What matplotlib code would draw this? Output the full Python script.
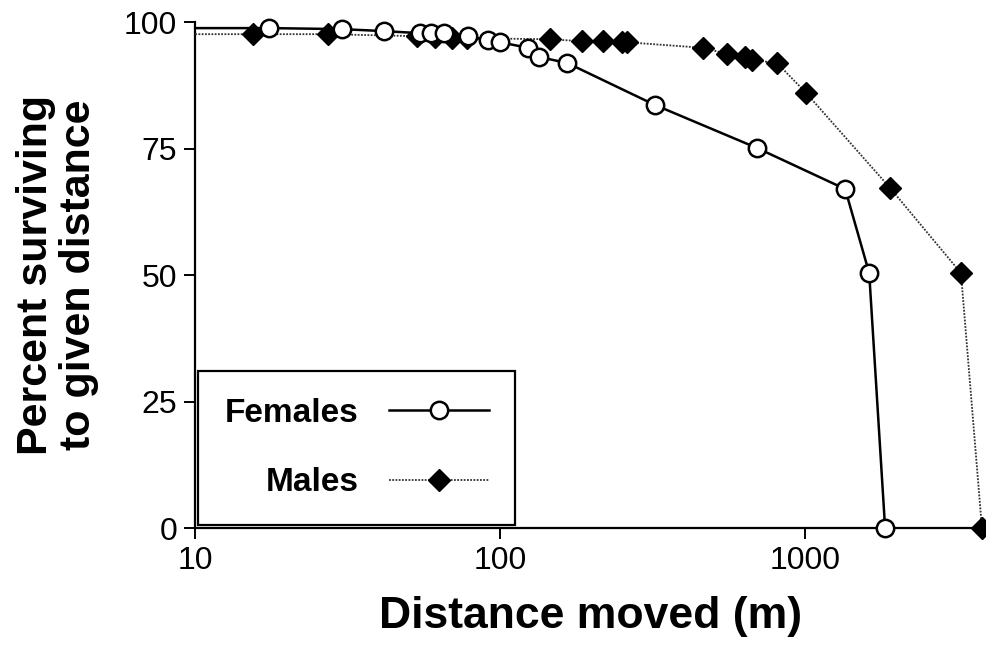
import matplotlib
matplotlib.use("Agg")
import matplotlib.pyplot as plt

# values (distance in m, percent surviving)
female_dist = [17.5, 30.3, 41.7, 54.7, 59.4, 65.5, 78.5, 91.4, 100, 123.5, 134, 166,
               322, 696, 1353, 1622, 1829]
female_pct = [98.8, 98.6, 98.2, 97.8, 97.8, 97.8, 97.2, 96.4, 96.0, 94.9, 93.1, 91.9,
              83.6, 75.1, 67.0, 50.4, 0]
male_dist = [15.5, 27.3, 53.4, 61.2, 69.6, 78, 146, 186, 218, 251, 261, 463, 555, 636,
             670, 809, 1007, 1900, 3243, 3800]
male_pct = [97.6, 97.6, 97.2, 97.0, 96.8, 96.8, 96.6, 96.2, 96.2, 96.0, 96.0, 94.9,
            93.7, 93.1, 92.5, 91.9, 86.0, 67.2, 50.4, 0]

xticks = [10, 100, 1000]
yticks = [0, 25, 50, 75, 100]

plt.rcParams["font.family"] = ["Liberation Sans", "DejaVu Sans"]

fig = plt.figure(figsize=(9.86, 6.48), dpi=100)
ax = fig.add_axes([0.198, 0.185, 0.802, 0.781])

ax.plot([10] + male_dist, [male_pct[0]] + male_pct, color="#333333", lw=1.3,
        ls=(0, (1, 0.8)), marker="D", ms=11.5, mfc="black", mec="black",
        markevery=list(range(1, len(male_dist) + 1)), clip_on=False, label="Males", zorder=3)
ax.plot([10] + female_dist, [female_pct[0]] + female_pct, color="black", lw=1.8,
        marker="o", ms=12.5, mfc="white", mec="black", mew=1.8,
        markevery=list(range(1, len(female_dist) + 1)), clip_on=False, label="Females", zorder=4)

ax.set_xscale("log")
ax.set_xlim(10, 3918)
ax.set_ylim(0, 100)
ax.set_xticks(xticks)
ax.set_xticklabels([str(t) for t in xticks])
ax.xaxis.set_minor_locator(matplotlib.ticker.NullLocator())
ax.set_yticks(yticks)

for side in ("top", "right"):
    ax.spines[side].set_visible(False)
for side in ("left", "bottom"):
    ax.spines[side].set_linewidth(1.6)
ax.tick_params(direction="out", length=8, width=1.4, labelsize=23, pad=5)

ax.set_xlabel("Distance moved (m)", fontsize=32, fontweight="bold", labelpad=14)
ax.set_ylabel("Percent surviving\nto given distance", fontsize=31, fontweight="bold",
              labelpad=18, linespacing=1.1)

handles, labels = ax.get_legend_handles_labels()
leg = ax.legend(handles[::-1], labels[::-1], loc="lower left", bbox_to_anchor=(0.004, 0.006),
                borderaxespad=0, markerfirst=False, fancybox=False, edgecolor="black",
                prop={"weight": "bold", "size": 24}, handlelength=3.0, handletextpad=0.9,
                labelspacing=1.15, borderpad=0.8, framealpha=1, numpoints=1)
leg.get_frame().set_linewidth(1.6)
leg.set_zorder(5)

fig.savefig("out.png", dpi=100)
